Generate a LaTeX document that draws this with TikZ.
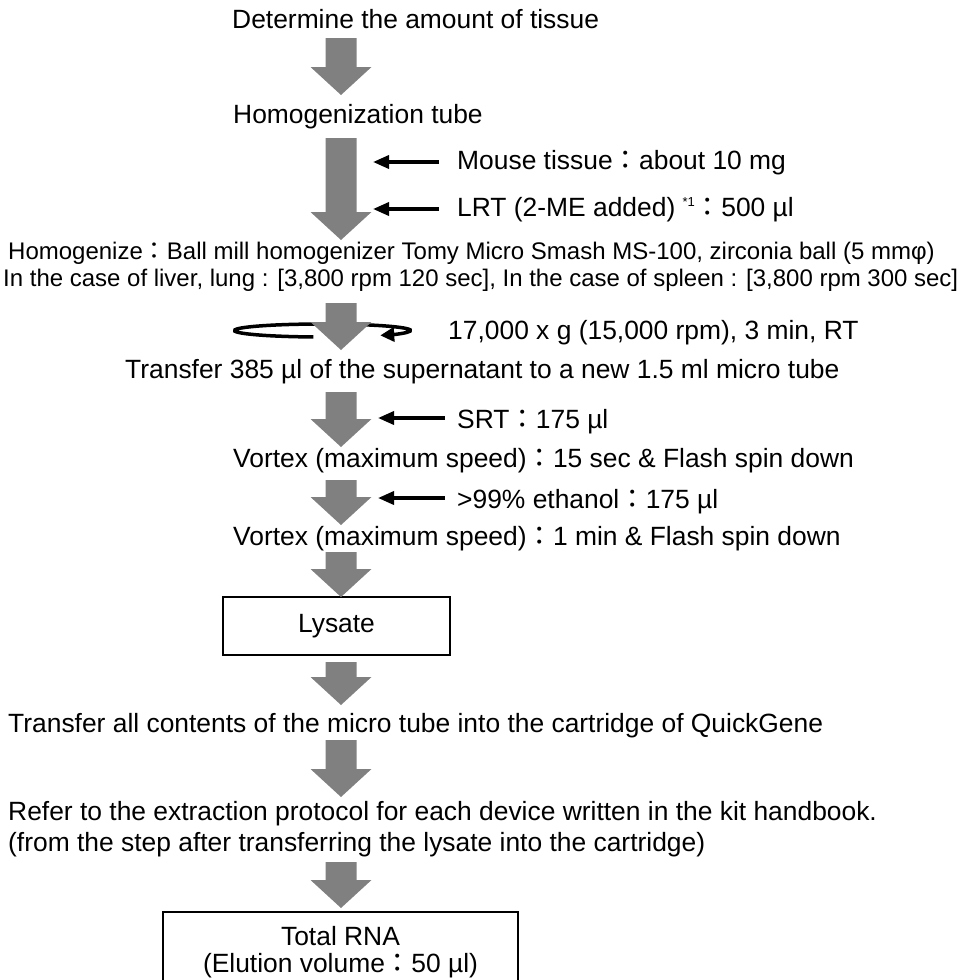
\documentclass[tikz,border=0pt]{standalone}
\usepackage{fontspec}
\setmainfont{Liberation Sans}
\newfontfamily\cjkfont{Noto Sans CJK JP}
\usepackage{graphicx}
\usetikzlibrary{arrows.meta}
\definecolor{arrowgray}{RGB}{128,128,128}
\newcommand\fcolon{{\cjkfont ：}}
% block arrow: x centre, top, tip
\newcommand\garrow[3]{\fill[arrowgray] (#1-15.5,#2) -- (#1+15.5,#2) -- (#1+15.5,#3-28) -- (#1+30.5,#3-28) -- (#1,#3) -- (#1-30.5,#3-28) -- (#1-15.5,#3-28) -- cycle;}
\begin{document}
\begin{tikzpicture}[x=1pt,y=-1pt,
  txt/.style={inner sep=0pt, anchor=base west, font=\fontsize{26.4}{30}\selectfont},
  smalltxt/.style={inner sep=0pt, anchor=base west, font=\fontsize{24}{28}\selectfont},
  smallarr/.style={line width=3.5pt, -{Triangle[length=16pt,width=13pt]}},
  boxnode/.style={draw, line width=1.8pt, inner sep=0pt, align=center, font=\fontsize{26.4}{27}\selectfont}]
\useasboundingbox (0,0) rectangle (961,980);

% texts
\node[txt] (det) at (232,28) {Determine the amount of tissue};
\node[txt] (homtube) at (233,123) {Homogenization tube};
\node[txt] (mouse) at (457,169) {Mouse tissue\fcolon about 10 mg};
\node[txt] (lrt) at (457,216) {LRT (2-ME added) \raisebox{10pt}{\fontsize{13}{13}\selectfont *1}\fcolon 500 µl};
\node[smalltxt] (homog) at (8,259) {Homogenize\fcolon Ball mill homogenizer Tomy Micro Smash MS-100, zirconia ball (5 mmφ)};
\node[smalltxt] (case) at (3,286) {\resizebox{955pt}{\height}{In the case of liver, lung : [3,800 rpm 120 sec], In the case of spleen : [3,800 rpm 300 sec]}};
\node[txt] (cent) at (448,339) {17,000 x g (15,000 rpm), 3 min, RT};
\node[txt] (t385) at (125,378) {Transfer 385 µl of the supernatant to a new 1.5 ml micro tube};
\node[txt] (srt) at (457,428) {SRT\fcolon 175 µl};
\node[txt] (vort1) at (233,467) {Vortex (maximum speed)\fcolon 15 sec \& Flash spin down};
\node[txt] (eth) at (457,508) {>99\% ethanol\fcolon 175 µl};
\node[txt] (vort2) at (233,545) {Vortex (maximum speed)\fcolon 1 min \& Flash spin down};
\node[boxnode, minimum width=227pt, minimum height=58pt] (lys) at (336.5,626) {Lysate};
\node[txt] (tall) at (8,732) {Transfer all contents of the micro tube into the cartridge of QuickGene};
\node[txt] (refer) at (8,820) {Refer to the extraction protocol for each device written in the kit handbook.};
\node[txt] (fromstep) at (8,851) {(from the step after transferring the lysate into the cartridge)};
\node[boxnode, minimum width=355pt, minimum height=80pt] (total) at (340.5,952) {Total RNA\\(Elution volume\fcolon 50 µl)};

% centrifuge rotation
\coordinate (rot) at (322.5,330.5);
\draw[line width=3.5pt, -{Triangle[length=14pt,width=14pt]}] (rot) ++(96:88 and 6.5) arc[start angle=96, end angle=409, x radius=88, y radius=6.5];

% block arrows
\garrow{341}{38}{95}
\garrow{341}{138}{240}
\garrow{341}{303}{350}
\garrow{341}{392}{447}
\garrow{341}{480}{525}
\garrow{341}{552}{597}
\garrow{341}{662}{705}
\garrow{341}{740}{797}
\garrow{341}{862}{908}

% addition arrows
\coordinate (m1) at (373,162);
\coordinate (m2) at (373,209);
\coordinate (m3) at (378,418);
\coordinate (m4) at (378,498);
\draw[smallarr] (439,162) -- (m1);
\draw[smallarr] (439,209) -- (m2);
\draw[smallarr] (445,418) -- (m3);
\draw[smallarr] (445,498) -- (m4);
\end{tikzpicture}
\end{document}
